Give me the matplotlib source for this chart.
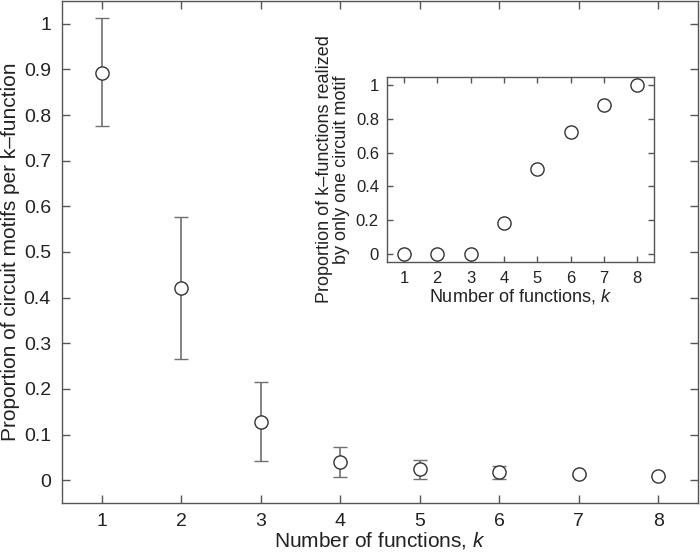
import matplotlib
matplotlib.use("Agg")
import matplotlib.pyplot as plt

plt.rcParams['font.family'] = ['Liberation Sans', 'DejaVu Sans']
plt.rcParams['mathtext.fontset'] = 'custom'
plt.rcParams['mathtext.it'] = 'Liberation Sans:italic'
plt.rcParams['mathtext.rm'] = 'Liberation Sans'

# Main chart data
k = [1, 2, 3, 4, 5, 6, 7, 8]
prop_motifs = [0.893, 0.421, 0.128, 0.040, 0.024, 0.017, 0.0125, 0.009]
err_low = [0.777, 0.266, 0.041, 0.007, 0.002, 0.002, 0.010, 0.009]
err_high = [1.012, 0.577, 0.215, 0.073, 0.044, 0.031, 0.015, 0.009]

# Inset data
k_inset = [1, 2, 3, 4, 5, 6, 7, 8]
prop_unique = [0.0, 0.0, 0.0, 0.183, 0.502, 0.723, 0.88, 1.0]

main_yticks = [0, 0.1, 0.2, 0.3, 0.4, 0.5, 0.6, 0.7, 0.8, 0.9, 1]
main_yticklabels = ['0', '0.1', '0.2', '0.3', '0.4', '0.5', '0.6', '0.7', '0.8', '0.9', '1']
inset_yticks = [0, 0.2, 0.4, 0.6, 0.8, 1]
inset_yticklabels = ['0', '0.2', '0.4', '0.6', '0.8', '1']

spine_c = '#555555'
text_c = '#222222'
err_c = '#707070'
mk_c = '#333333'

fig = plt.figure(figsize=(7.0, 5.53), dpi=100)
ax = fig.add_axes([62/700, (553-503)/553, (698-62)/700, (503-1)/553])

yerr = [[p - l for p, l in zip(prop_motifs, err_low)],
        [h - p for p, h in zip(prop_motifs, err_high)]]
ax.errorbar(k, prop_motifs, yerr=yerr, fmt='o', mfc='white', mec=mk_c, mew=1.0,
            ms=9.5, ecolor=err_c, elinewidth=1.2, capsize=5, capthick=1.2, zorder=3)

ax.set_xlim(0.5, 8.5)
ax.set_ylim(-0.05, 1.05)
ax.set_xticks(k)
ax.set_yticks(main_yticks)
ax.set_yticklabels(main_yticklabels)
ax.tick_params(direction='in', top=True, right=True, length=6, width=1.0,
               color=spine_c, labelsize=14, labelcolor=text_c, pad=8)
ax.tick_params(axis='x', pad=7)
for s in ax.spines.values():
    s.set_color(spine_c)
    s.set_linewidth(1.0)
ax.set_xlabel('Number of functions, $k$', fontsize=15, color=text_c, labelpad=0)
ax.set_ylabel('Proportion of circuit motifs per k\u2013function', fontsize=15,
              color=text_c)
ax.yaxis.set_label_coords(-0.066, 0.5)

ins = fig.add_axes([387.3/700, (553-262.3)/553, (654-387.3)/700, (262.3-76.7)/553])
ins.plot(k_inset, prop_unique, 'o', mfc='white', mec=mk_c, mew=1.0, ms=9.5)
ins.set_xlim(0.5, 8.5)
ins.set_ylim(-0.05, 1.05)
ins.set_xticks(k_inset)
ins.set_yticks(inset_yticks)
ins.set_yticklabels(inset_yticklabels)
ins.tick_params(direction='in', top=True, right=True, length=4, width=1.0,
                color=spine_c, labelsize=12, labelcolor=text_c, pad=6)
for s in ins.spines.values():
    s.set_color(spine_c)
    s.set_linewidth(1.0)
ins.set_xlabel('Number of functions, $k$', fontsize=13, color=text_c, labelpad=1)
ins.set_ylabel('Proportion of k\u2013functions realized\nby only one circuit motif',
               fontsize=13, color=text_c, linespacing=1.0)
ins.yaxis.set_label_coords(-0.14, 0.5)

fig.savefig('out.png', dpi=100)
